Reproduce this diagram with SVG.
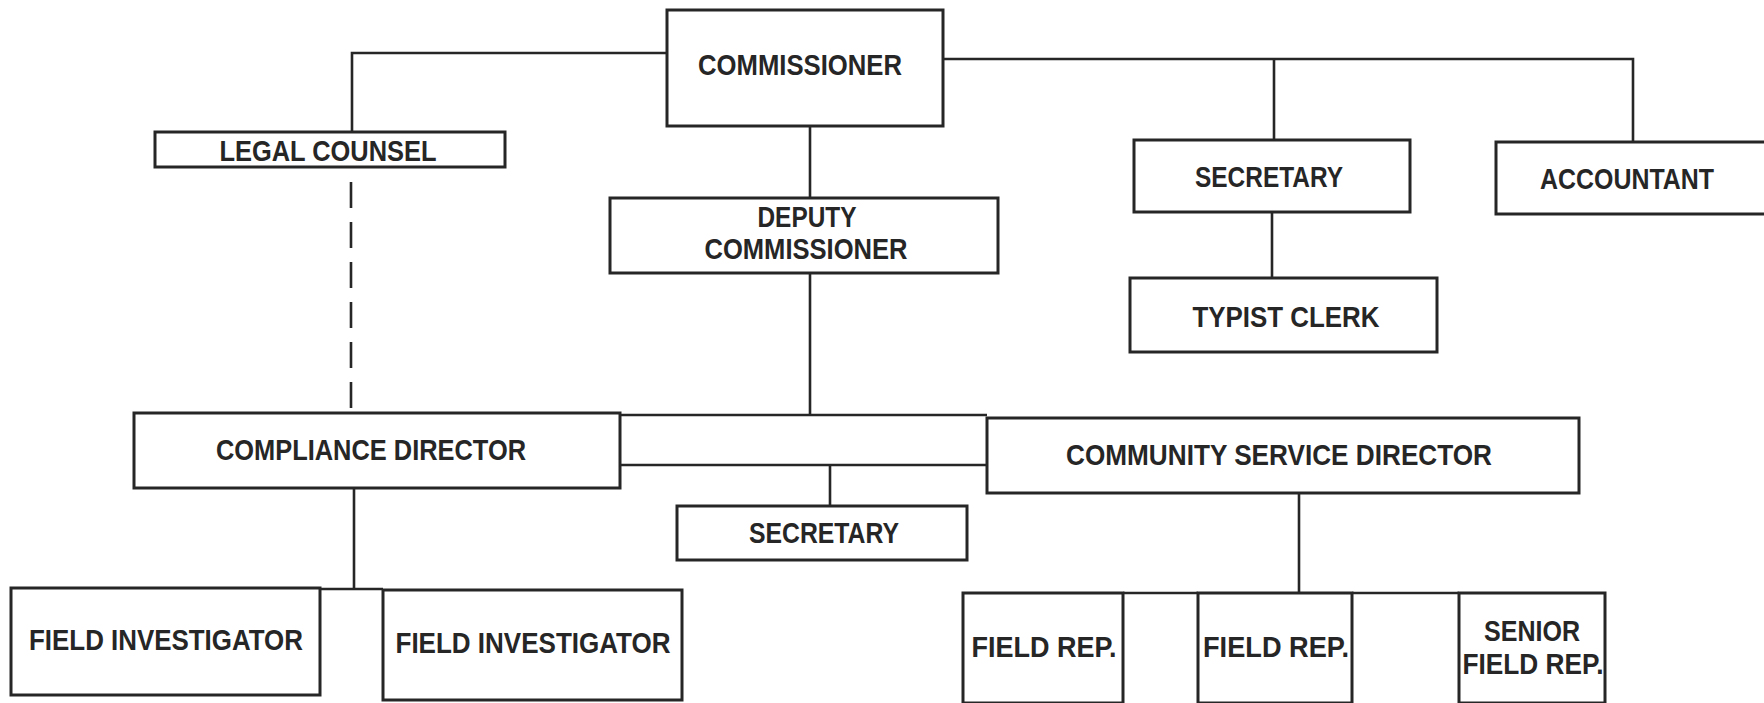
<svg xmlns="http://www.w3.org/2000/svg" width="1764" height="703" viewBox="0 0 1764 703">
<style>
.box{fill:#fff;stroke:#262626;stroke-width:3}
.ln{fill:none;stroke:#262626;stroke-width:2.6}
.dash{stroke-dasharray:26 14}
text{font-family:"Liberation Sans","DejaVu Sans",Arial,sans-serif;font-weight:bold;font-size:29.5px;fill:#262626;text-anchor:middle}
</style>
<rect width="1764" height="703" fill="#fff"/>
<g id="connectors">
<path class="ln" d="M667,53 H352 V132"/>
<path class="ln" d="M810,126 V198"/>
<path class="ln" d="M943,59 H1633 V142"/>
<path class="ln" d="M1274,59 V140"/>
<path class="ln" d="M1272,212 V278"/>
<path class="ln" d="M810,273 V415"/>
<path class="ln" d="M620,415 H987"/>
<path class="ln" d="M620,465 H987"/>
<path class="ln" d="M830,465 V506"/>
<path class="ln dash" d="M351,182 V410"/>
<path class="ln" d="M354,488 V589"/>
<path class="ln" d="M320,589 H383"/>
<path class="ln" d="M1299,493 V593"/>
<path class="ln" d="M1123,593 H1198 M1352,593 H1459"/>
</g>
<g id="commissioner"><rect class="box" x="667" y="10" width="276" height="116"/><text x="800" y="75" textLength="204" lengthAdjust="spacingAndGlyphs">COMMISSIONER</text></g>
<g id="legal-counsel"><rect class="box" x="155" y="132" width="350" height="35"/><text x="328" y="161" textLength="217" lengthAdjust="spacingAndGlyphs">LEGAL COUNSEL</text></g>
<g id="deputy-commissioner"><rect class="box" x="610" y="198" width="388" height="75"/><text x="807" y="227" textLength="99" lengthAdjust="spacingAndGlyphs">DEPUTY</text><text x="806" y="259" textLength="203" lengthAdjust="spacingAndGlyphs">COMMISSIONER</text></g>
<g id="secretary-1"><rect class="box" x="1134" y="140" width="276" height="72"/><text x="1269" y="187" textLength="148" lengthAdjust="spacingAndGlyphs">SECRETARY</text></g>
<g id="accountant"><rect class="box" x="1496" y="142" width="280" height="72"/><text x="1627" y="189" textLength="174" lengthAdjust="spacingAndGlyphs">ACCOUNTANT</text></g>
<g id="typist-clerk"><rect class="box" x="1130" y="278" width="307" height="74"/><text x="1286" y="327" textLength="187" lengthAdjust="spacingAndGlyphs">TYPIST CLERK</text></g>
<g id="compliance-director"><rect class="box" x="134" y="413" width="486" height="75"/><text x="371" y="460" textLength="310" lengthAdjust="spacingAndGlyphs">COMPLIANCE DIRECTOR</text></g>
<g id="community-service-director"><rect class="box" x="987" y="418" width="592" height="75"/><text x="1279" y="465" textLength="426" lengthAdjust="spacingAndGlyphs">COMMUNITY SERVICE DIRECTOR</text></g>
<g id="secretary-2"><rect class="box" x="677" y="506" width="290" height="54"/><text x="824" y="543" textLength="150" lengthAdjust="spacingAndGlyphs">SECRETARY</text></g>
<g id="field-investigator-1"><rect class="box" x="11" y="588" width="309" height="107"/><text x="166" y="650" textLength="274" lengthAdjust="spacingAndGlyphs">FIELD INVESTIGATOR</text></g>
<g id="field-investigator-2"><rect class="box" x="383" y="590" width="299" height="110"/><text x="533" y="653" textLength="275" lengthAdjust="spacingAndGlyphs">FIELD INVESTIGATOR</text></g>
<g id="field-rep-1"><rect class="box" x="963" y="593" width="160" height="110"/><text x="1044" y="657" textLength="145" lengthAdjust="spacingAndGlyphs">FIELD REP.</text></g>
<g id="field-rep-2"><rect class="box" x="1198" y="593" width="154" height="110"/><text x="1276" y="657" textLength="146" lengthAdjust="spacingAndGlyphs">FIELD REP.</text></g>
<g id="senior-field-rep"><rect class="box" x="1459" y="593" width="146" height="110"/><text x="1532" y="641" textLength="96" lengthAdjust="spacingAndGlyphs">SENIOR</text><text x="1533" y="674" textLength="141" lengthAdjust="spacingAndGlyphs">FIELD REP.</text></g>
</svg>
